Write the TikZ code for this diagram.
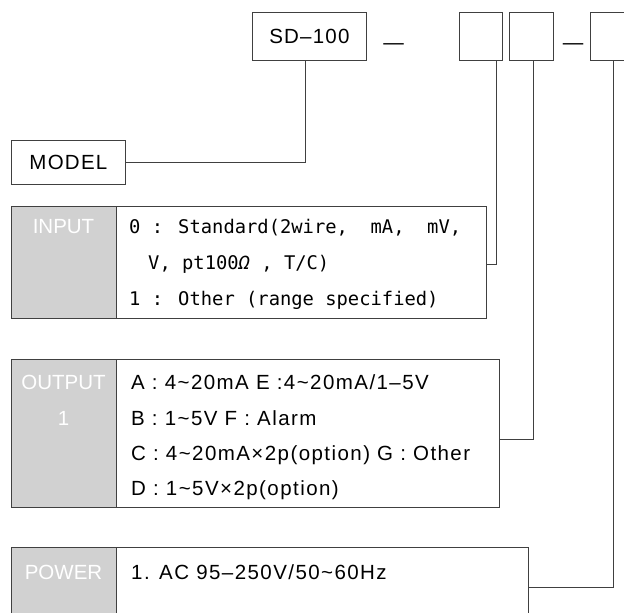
\documentclass[tikz,border=0pt]{standalone}
\usepackage{fontspec}
\setmainfont{Liberation Sans}
\newfontfamily\monofam{DejaVu Sans Mono}
\newcommand\wv{\symbol{"7E}}
\begin{document}
\begin{tikzpicture}[x=1pt,y=-1pt,
  frame/.style={draw=black!75, line width=0.8pt, inner sep=0pt, anchor=north west},
  graybox/.style={frame, fill=black!18},
  wire/.style={draw=black!75, line width=0.8pt},
  txt/.style={font=\fontsize{20.5}{24}\selectfont\addfontfeatures{LetterSpace=7}, anchor=base west, inner sep=0pt},
  mtxt/.style={font=\monofam\fontsize{18.8}{24}\selectfont, anchor=base west, inner sep=0pt},
  lab/.style={font=\fontsize{20.5}{24}\selectfont, text=white, anchor=base, inner sep=0pt},
  btxt/.style={font=\fontsize{20.5}{24}\selectfont\addfontfeatures{LetterSpace=6}}]
\useasboundingbox (0,0) rectangle (624,613);
% top code boxes
\node[frame, minimum width=114pt, minimum height=48pt, btxt] (sd) at (252,12) {SD–100};
\node[lab, text=black] (d1) at (393.5,49.5) {—};
\node[frame, minimum width=43pt, minimum height=48pt] (b2) at (459,12) {};
\node[frame, minimum width=44pt, minimum height=48pt] (b3) at (509,12) {};
\node[lab, text=black] (d2) at (573,49.5) {—};
\node[frame, minimum width=44pt, minimum height=48pt] (b4) at (590,12) {};
% model
\node[frame, minimum width=114pt, minimum height=44pt, btxt] (model) at (11,140) {MODEL};
% input
\node[graybox, minimum width=105pt, minimum height=112pt] (ing) at (11,206) {};
\node[frame, minimum width=370pt, minimum height=112pt] (inb) at (116,206) {};
\node[lab] (inl) at (63.5,233) {INPUT};
\node[mtxt] (in1) at (129,233) {0 : Standard(2wire,\ \ mA,\ \ mV,};
\node[mtxt] (in2) at (148,269) {V, pt100\textit{Ω} , T/C)};
\node[mtxt] (in3) at (129,305) {1 : Other (range specified)};
% output
\node[graybox, minimum width=105pt, minimum height=148pt] (outg) at (11,359) {};
\node[frame, minimum width=383pt, minimum height=148pt] (outb) at (116,359) {};
\node[lab] (outl) at (63.5,389) {OUTPUT};
\node[lab] (outl2) at (63.5,425) {1};
\node[txt] (o1) at (131,389) {A : 4\wv20mA E :4\wv20mA/1–5V};
\node[txt] (o2) at (131,425) {B : 1\wv5V F : Alarm};
\node[txt] (o3) at (131,460) {C : 4\wv20mA×2p(option) G : Other};
\node[txt] (o4) at (131,495) {D : 1\wv5V×2p(option)};
% power
\node[graybox, minimum width=105pt, minimum height=80pt] (pwg) at (11,547) {};
\node[frame, minimum width=412pt, minimum height=80pt] (pwb) at (116,547) {};
\node[lab] (pwl) at (63.5,579) {POWER};
\node[txt] (p1) at (131,579) {1. AC 95–250V/50\wv60Hz};
% connectors
\coordinate (c1) at (305,60);
\coordinate (c2) at (496,60);
\coordinate (c3) at (533,60);
\coordinate (c4) at (613,60);
\coordinate (e2) at (486,264);
\coordinate (e3) at (499,439);
\coordinate (e4) at (528,587);
\draw[wire] (c1) |- (model.east);
\draw[wire] (c2) |- (e2);
\draw[wire] (c3) |- (e3);
\draw[wire] (c4) |- (e4);
\end{tikzpicture}
\end{document}
